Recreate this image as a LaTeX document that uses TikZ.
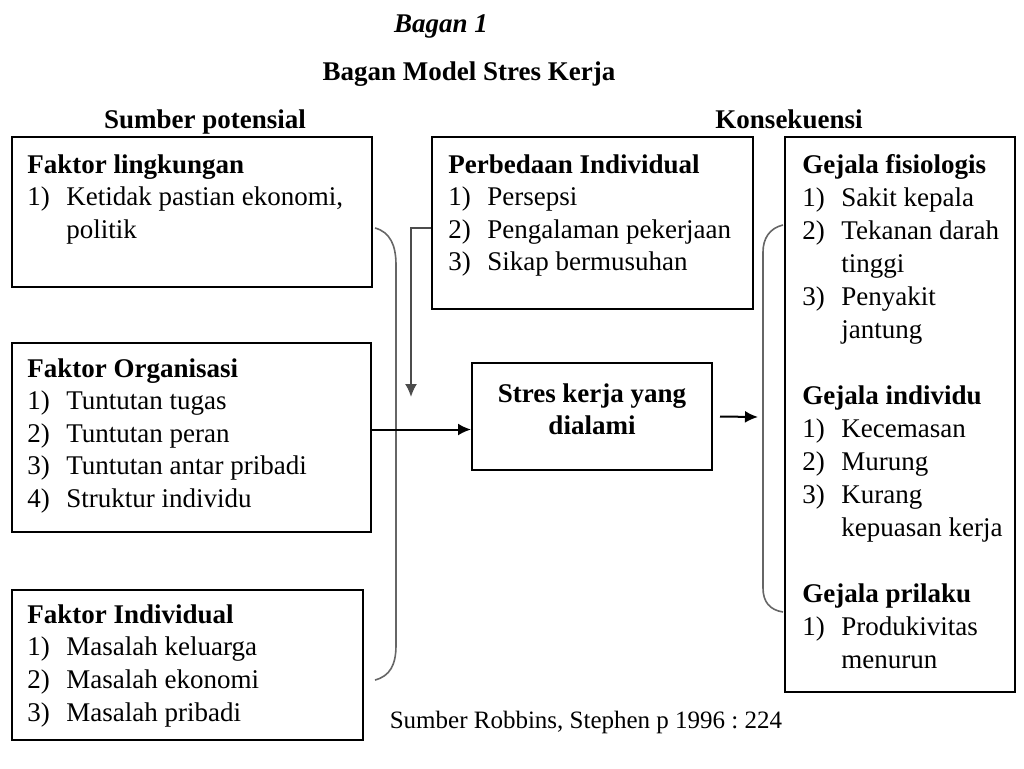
\documentclass[tikz,border=0pt]{standalone}
\usepackage{fontspec}
\setmainfont{Liberation Serif}
\usepackage{tikz}
\usetikzlibrary{arrows.meta}
\usetikzlibrary{positioning}
\frenchspacing
\newcommand{\nomor}[1]{\makebox[19.5pt][l]{#1}}
\tikzset{
    kotak/.style={draw=black, line width=1pt, inner sep=0pt},
    isi/.style={anchor=base west, inner sep=0pt, align=flush left,
        font=\fontsize{13.5pt}{16.25pt}\selectfont},
    judul/.style={anchor=base, inner sep=0pt,
        font=\fontsize{13.5pt}{16.25pt}\selectfont\bfseries},
    panah/.style={draw=black, line width=1pt, -{Latex[length=6.5pt,width=6pt]}},
    kurung/.style={draw=black!60, line width=0.8pt},
}
\begin{document}
\begin{tikzpicture}[x=0.5pt, y=-0.5pt]
	\useasboundingbox (0,0) rectangle (1024,768);
	% judul
	\node[judul, font=\fontsize{13.5pt}{16.25pt}\selectfont\bfseries\itshape] (bagan) at (441,32) {Bagan 1};
	\node[judul] (model) at (469,80) {Bagan Model Stres Kerja};
	\node[judul] (sumber) at (205,128) {Sumber potensial};
	\node[judul] (konsek) at (789,128) {Konsekuensi};
	% kotak
	\node[kotak, minimum width=180pt, minimum height=75pt] (lingk) at (192,212) {};
	\node[kotak, minimum width=179.5pt, minimum height=94.5pt] (org) at (191.5,437.5) {};
	\node[kotak, minimum width=175.5pt, minimum height=75pt] (indiv) at (187.5,665) {};
	\node[kotak, minimum width=160.5pt, minimum height=86pt] (beda) at (592.5,223) {};
	\node[kotak, minimum width=120pt, minimum height=53.5pt] (stres) at (592,416.5) {};
	\node[kotak, minimum width=115pt, minimum height=277.5pt] (gejala) at (900,414.5) {};
	% isi kotak
	\node[isi, text width=170pt] (tlingk) at (27,173) {\textbf{Faktor lingkungan}\\
		\nomor{1)}Ketidak pastian ekonomi,\\ \nomor{}politik};
	\node[isi, text width=170pt] (torg) at (27,377) {\textbf{Faktor Organisasi}\\
		\nomor{1)}Tuntutan tugas\\ \nomor{2)}Tuntutan peran\\
		\nomor{3)}Tuntutan antar pribadi\\ \nomor{4)}Struktur individu};
	\node[isi, text width=170pt, font=\fontsize{13.5pt}{16.35pt}\selectfont] (tindiv) at (27,623) {\textbf{Faktor Individual}\\
		\nomor{1)}Masalah keluarga\\ \nomor{2)}Masalah ekonomi\\ \nomor{3)}Masalah pribadi};
	\node[isi, text width=155pt] (tbeda) at (448,173) {\textbf{Perbedaan Individual}\\
		\nomor{1)}Persepsi\\ \nomor{2)}Pengalaman pekerjaan\\ \nomor{3)}Sikap bermusuhan};
	\node[isi, text width=110pt, align=flush center, anchor=base] (tstres) at (592,402) {\textbf{Stres kerja yang}\\ \textbf{dialami}};
	\node[isi, text width=110pt, font=\fontsize{13.5pt}{16.5pt}\selectfont] (tgejala) at (802,173) {\textbf{Gejala fisiologis}\\
		\nomor{1)}Sakit kepala\\ \nomor{2)}Tekanan darah\\ \nomor{}tinggi\\
		\nomor{3)}Penyakit\\ \nomor{}jantung\\[16.5pt]
		\textbf{Gejala individu}\\ \nomor{1)}Kecemasan\\ \nomor{2)}Murung\\
		\nomor{3)}Kurang\\ \nomor{}kepuasan kerja\\[16.5pt]
		\textbf{Gejala prilaku}\\ \nomor{1)}Produkivitas\\ \nomor{}menurun};
	% kurung
	\draw[kurung] (375,228) .. controls (390,232) and (396,245) .. (396,265) -- (396,645)
		.. controls (396,665) and (390,676) .. (375,680);
	\draw[kurung] (783,225) .. controls (770,228) and (763,238) .. (763,252) -- (763,588)
		.. controls (763,602) and (770,610) .. (783,612);
	% panah
	\coordinate (turun) at (411,397);
	\coordinate (hasil) at (758,417);
	\draw[panah, draw=black!70] ([yshift=-2.5pt]beda.west) -| (turun);
	\draw[panah] ([yshift=4pt]org.east) -- ([yshift=4pt]org.east -| stres.west);
	\draw[panah] ([xshift=3.5pt]stres.east) -- (hasil);
	% sumber
	\node[isi, anchor=base, font=\fontsize{12.5pt}{15pt}\selectfont] (ref) at (586,728) {Sumber Robbins, Stephen p 1996 : 224};
\end{tikzpicture}
\end{document}
